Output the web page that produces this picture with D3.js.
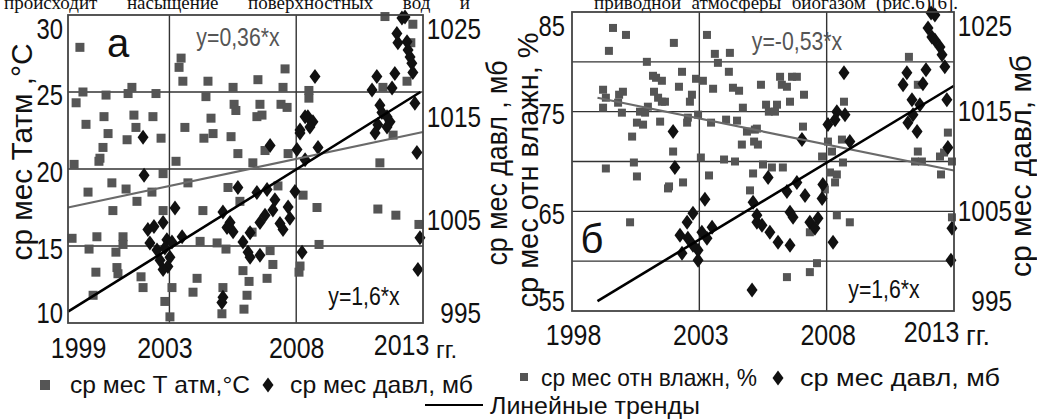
<!DOCTYPE html>
<html>
<head>
<meta charset="utf-8">
<style>
body { margin: 0; background: #fff; }
svg { display: block; }
text { font-family: "Liberation Sans", Arial, sans-serif; fill: #111; }
.serif { font-family: "Liberation Serif", "Times New Roman", serif; }
</style>
<title></title>
</head>
<body>
<script src="https://cdn.jsdelivr.net/npm/d3@7/dist/d3.min.js"></script>
<script>

// ---- data ----
// panel а: monthly air temperature (°C) and pressure (mb)
var tempA = [
  [1999.47,27.9],[1999.32,24.3],[1999.59,25.0],[1999.71,22.9],[2000.50,24.8],[2000.42,23.4],[2000.58,22.3],
  [2000.38,21.4],[2000.26,20.7],[2001.52,25.3],[2001.37,24.9],[2001.60,23.5],[2001.68,22.7],[2001.33,21.9],
  [2002.35,23.4],[2002.47,24.9],[2002.67,22.0],[1999.24,20.3],[2000.22,20.5],[2002.75,19.7],[1999.79,18.5],
  [2000.73,19.1],[2001.29,18.7],[2000.77,17.3],[2001.72,17.9],[2002.31,18.5],[1999.16,15.5],[1999.83,14.8],
  [2000.14,15.6],[2000.10,13.3],[2000.89,14.6],[2001.17,15.6],[2001.17,15.1],[2000.93,13.6],[2000.97,13.2],
  [1999.99,11.8],[2001.88,13.0],[2001.96,12.3],[2002.75,17.3],[2003.10,12.3],[2002.82,11.4],[2003.02,10.4],
  [2003.46,27.2],[2003.38,26.6],[2003.53,25.7],[2004.52,25.7],[2004.44,24.7],[2005.51,25.3],[2005.55,24.2],
  [2005.62,23.8],[2006.49,25.8],[2006.57,24.2],[2006.45,23.4],[2006.65,23.5],[2007.56,26.5],[2007.48,25.3],
  [2007.40,24.2],[2007.64,24.0],[2004.64,23.3],[2003.61,22.7],[2004.36,22.0],[2004.72,22.3],[2005.43,22.1],
  [2005.70,21.0],[2003.26,20.5],[2006.29,20.4],[2006.77,21.2],[2007.68,21.0],[2003.73,19.1],[2005.31,18.8],
  [2004.32,17.3],[2005.78,17.9],[2007.28,18.9],[2008.27,18.3],[2004.21,15.3],[2004.88,15.2],[2005.23,14.8],
  [2006.26,15.9],[2005.90,13.4],[2006.14,12.7],[2006.85,12.9],[2006.97,14.7],[2007.08,13.8],[2008.11,13.3],
  [2008.15,13.7],[2004.09,12.9],[2003.93,12.0],[2005.11,12.3],[2006.06,11.8],[2005.94,10.9],[2005.07,10.6],
  [2011.50,29.9],[2012.60,29.4],[2012.52,28.2],[2008.50,25.1],[2008.50,24.6],[2011.42,25.3],[2012.37,25.7],
  [2011.82,22.2],[2011.30,20.4],[2008.82,17.5],[2011.22,17.4],[2011.93,17.0],[2012.84,16.4],[2008.90,15.1]
];
var pressA = [
  [2001.96,1013.1],[2002.00,1009.4],[2002.15,1004.1],[2002.39,1004.4],[2002.75,1004.8],[2003.22,1006.2],
  [2002.23,1002.8],[2002.51,1002.1],[2002.90,1003.1],[2002.94,1000.5],[2002.63,1001.1],[2003.02,1001.4],
  [2002.75,1000.2],[2003.50,1003.4],[2003.10,1002.9],[2002.82,1002.3],[2005.70,1008.2],[2005.11,1005.8],
  [2005.39,1004.8],[2005.51,1003.9],[2005.27,1004.3],[2006.45,1007.7],[2006.85,1008.0],[2007.16,1007.0],
  [2007.08,1006.0],[2006.57,1004.8],[2006.77,1005.5],[2007.48,1004.1],[2007.36,1004.7],[2007.68,1006.3],
  [2007.75,1005.2],[2007.95,1007.8],[2005.90,1002.9],[2006.10,1001.9],[2006.18,1001.4],[2006.57,1001.6],
  [2006.18,1003.8],[2008.23,1001.9],[2005.07,997.0],[2005.11,997.5],[2006.97,1012.3],[2008.35,1015.1],
  [2008.15,1013.8],[2008.03,1011.9],[2012.17,1024.7],[2012.29,1024.8],[2011.97,1023.2],[2012.01,1022.3],
  [2012.37,1022.4],[2012.41,1021.6],[2012.49,1020.9],[2012.56,1020.3],[2012.60,1019.4],[2008.74,1019.0],
  [2011.18,1019.0],[2011.89,1019.3],[2010.99,1017.7],[2011.78,1017.9],[2011.30,1016.2],[2011.38,1015.5],
  [2011.58,1015.1],[2011.70,1014.6],[2011.22,1014.3],[2011.11,1013.5],[2011.58,1014.1],[2012.68,1016.4],
  [2012.76,1011.6],[2008.46,1015.1],[2008.66,1014.6],[2008.54,1014.1],[2008.15,1013.5],[2008.86,1012.1],
  [2008.35,1010.9],[2012.88,1003.3],[2012.80,1000.2]
];
// panel б: monthly relative humidity (%) and pressure (mb)
var humB = [
  [1999.61,83.4],[2000.12,82.7],[1999.45,81.1],[2002.00,81.9],[2003.30,82.7],[2000.94,80.0],[2002.32,79.0],
  [2001.18,78.6],[2001.30,78.4],[2001.53,78.1],[1999.22,77.2],[2000.00,77.0],[2002.20,77.5],[2002.87,78.3],
  [2003.14,78.1],[2003.54,77.3],[2002.71,76.7],[2002.63,76.0],[2001.22,77.0],[2001.38,76.4],[2001.53,76.0],
  [2001.65,76.0],[1999.33,76.4],[1999.22,75.4],[1999.85,76.7],[1999.81,75.9],[1999.96,74.9],[2000.67,75.0],
  [2000.87,74.9],[2000.98,75.5],[2000.55,73.9],[2000.79,73.7],[2001.46,74.0],[2002.52,73.9],[2002.55,74.4],
  [2002.95,74.7],[2003.46,73.9],[2003.61,80.8],[2003.73,79.9],[2004.20,80.9],[2004.16,79.0],[2004.32,77.4],
  [2004.56,77.1],[2004.71,75.4],[2004.48,74.1],[2004.05,74.2],[2004.87,73.0],[2005.18,73.2],[2005.15,72.0],
  [2004.67,71.7],[2000.36,72.5],[2001.97,71.0],[2003.06,70.4],[2003.97,70.2],[2004.40,70.0],[1999.33,69.3],
  [2000.43,69.9],[2000.55,68.5],[2003.38,68.6],[2001.81,67.5],[2001.77,67.3],[2002.36,67.9],[2005.11,68.8],
  [2004.99,67.1],[2000.28,63.9],[2011.23,80.5],[2005.42,77.7],[2006.17,78.5],[2006.24,77.7],[2006.44,77.5],
  [2006.64,78.5],[2006.83,78.5],[2007.11,76.7],[2005.62,75.7],[2005.73,75.0],[2006.05,75.7],[2005.97,75.0],
  [2006.56,76.0],[2005.26,73.3],[2005.30,71.7],[2007.07,73.5],[2008.68,76.0],[2008.60,72.2],[2008.05,72.0],
  [2008.21,71.0],[2007.82,70.5],[2008.64,69.9],[2005.85,69.4],[2005.50,69.7],[2006.28,69.4],[2008.13,68.9],
  [2008.40,68.7],[2007.93,67.2],[2008.33,67.9],[2011.58,71.0],[2011.47,70.0],[2011.74,70.0],[2012.45,70.5],
  [2012.76,72.9],[2012.61,70.9],[2012.92,70.0],[2012.49,68.7],[2011.58,77.7],[2008.40,64.6],[2008.91,63.9],
  [2012.92,64.4],[2007.62,59.8],[2007.34,58.9],[2006.44,58.4],[2007.34,62.9]
];
var pressB = [
  [2001.97,1013.0],[2002.04,1009.4],[2003.22,1006.2],[2002.52,1003.9],[2002.75,1004.8],[2002.24,1002.6],
  [2002.55,1002.3],[2002.32,1000.8],[2002.95,1000.1],[2003.10,1002.9],[2003.50,1003.4],[2003.30,1002.3],
  [2002.95,1001.1],[2002.75,1001.6],[2005.11,1005.9],[2005.26,1003.9],[2005.07,997.1],[2012.25,1024.7],
  [2012.10,1024.9],[2011.98,1023.4],[2012.13,1022.5],[2012.25,1022.2],[2012.45,1021.5],[2012.53,1020.7],
  [2012.64,1019.5],[2008.68,1018.9],[2011.15,1018.9],[2011.90,1019.2],[2011.78,1017.8],[2011.00,1017.7],
  [2011.35,1016.2],[2011.66,1015.7],[2011.39,1014.7],[2011.19,1013.9],[2011.55,1013.0],[2012.72,1016.2],
  [2012.76,1011.4],[2008.40,1015.0],[2008.72,1014.7],[2008.33,1014.2],[2008.05,1013.7],[2008.91,1012.0],
  [2007.03,1012.2],[2005.70,1008.4],[2006.83,1007.9],[2006.44,1007.0],[2007.15,1006.6],[2007.82,1006.3],
  [2007.85,1007.7],[2006.56,1004.9],[2006.68,1004.4],[2007.34,1003.9],[2007.54,1003.3],[2007.66,1004.3],
  [2005.26,1004.6],[2005.46,1003.6],[2005.77,1002.9],[2006.09,1001.9],[2006.56,1001.6],[2008.25,1001.9],
  [2012.92,1003.3],[2012.88,1000.1]
];
// linear trends (end points)
var trendTempA = [[1999, 17.5], [2013, 22.4]];
var trendPressA = [[1999, 996.1], [2012.9, 1017.5]];
var trendHumB = [[1999, 76.4], [2013, 69.1]];
var trendPressB = [[1999, 996.0], [2013, 1017.6]];

var yearTicksA = [1999, 2003, 2008, 2013];
var yearTicksB = [1998, 2003, 2008, 2013];
var tempTicks = [10, 15, 20, 25, 30];
var humTicks = [55, 65, 75, 85];
var pressTicks = [995, 1005, 1015, 1025];

var titlesA = ["ср мес Татм ,°С", "ср мес давл , мб"];
var titlesB = ["ср мес отн влажн, %", "ср мес давл, мб"];
var eqA = ["y=0,36*x", "y=1,6*x"];
var eqB = ["y=-0,53*x", "y=1,6*x"];
var legendA = ["ср мес Т атм,°С", "ср мес давл, мб"];
var legendB = ["ср мес отн влажн, %", "ср мес давл, мб"];
var topText = ["происходит насыщение поверхностных вод и", "приводной атмосферы биогазом (рис.6)[6]."];

var width = 1037, height = 419;
var svg = d3.select("body").append("svg")
    .attr("width", width)
    .attr("height", height);
svg.append("rect").attr("width", width).attr("height", height).attr("fill", "#fff");

// squeeze a text horizontally (narrow face is not installed)
function squeeze(sel, k) {
  sel.each(function() {
    var len = this.getComputedTextLength();
    d3.select(this).attr("textLength", len * k).attr("lengthAdjust", "spacingAndGlyphs");
  });
}
function fitTo(sel, len) {
  sel.attr("textLength", len).attr("lengthAdjust", "spacingAndGlyphs");
}

// cut off text line at the top (justified)
function justified(str, x0, x1, y) {
  var t = svg.append("text").attr("class", "serif")
      .attr("x", x0).attr("y", y)
      .style("font-size", "19px")
      .text(str);
  var natural = t.node().getComputedTextLength();
  var gaps = str.split(" ").length - 1;
  t.style("word-spacing", Math.max(0, (x1 - x0 - natural) / gaps) + "px");
}
justified(topText[0], 4, 470, 9);
justified(topText[1], 594, 958, 9);

var diamond = "M0,-7.5L5.5,0L0,7.5L-5.5,0Z";

function drawPanel(p) {
  var x = d3.scaleLinear().domain(p.xDomain).range([p.left, p.right]);
  var yL = d3.scaleLinear().domain(p.leftDomain).range([p.bottom, p.top]);
  var yR = d3.scaleLinear().domain([995, 1025]).range([p.bottom, p.top]);
  var g = svg.append("g");

  // grid
  g.selectAll(".hg").data(p.hGrid).enter().append("line")
      .attr("x1", p.left).attr("x2", p.right)
      .attr("y1", d => yL(d)).attr("y2", d => yL(d))
      .attr("stroke", "#333").attr("stroke-width", 1.4);
  g.selectAll(".vg").data([2003, 2008]).enter().append("line")
      .attr("x1", d => x(d)).attr("x2", d => x(d))
      .attr("y1", p.top).attr("y2", p.bottom)
      .attr("stroke", "#333").attr("stroke-width", 1.4);

  // squares (left axis)
  g.selectAll(".sq").data(p.squares).enter().append("rect")
      .attr("x", d => x(d[0]) - p.sq / 2)
      .attr("y", d => yL(d[1]) - p.sq / 2)
      .attr("width", p.sq).attr("height", p.sq)
      .attr("fill", "#555");

  // diamonds (right axis)
  g.selectAll(".dm").data(p.diamonds).enter().append("path")
      .attr("d", diamond)
      .attr("transform", d => "translate(" + x(d[0]) + "," + yR(d[1]) + ")")
      .attr("fill", "#111");

  // trends
  var lineL = d3.line().x(d => x(d[0])).y(d => yL(d[1]));
  var lineR = d3.line().x(d => x(d[0])).y(d => yR(d[1]));
  g.append("path").attr("d", lineL(p.trendL))
      .attr("fill", "none").attr("stroke", "#6a6a6a").attr("stroke-width", 2.2);
  g.append("path").attr("d", lineR(p.trendR))
      .attr("fill", "none").attr("stroke", "#000").attr("stroke-width", 2.6);

  // frame
  g.append("rect")
      .attr("x", p.left).attr("y", p.top)
      .attr("width", p.right - p.left).attr("height", p.bottom - p.top)
      .attr("fill", "none").attr("stroke", "#444").attr("stroke-width", 1.8);

  function clampShift(scale, lo, hi, base) {
    return function(d) {
      var pos = scale(d);
      return Math.min(Math.max(pos + base, p.top + lo), p.bottom - hi) - pos;
    };
  }

  // x axis labels
  var ax = g.append("g")
      .attr("transform", "translate(0," + p.bottom + ")")
      .call(d3.axisBottom(x).tickValues(p.xTicks).tickSize(0).tickPadding(p.xPad).tickFormat(d3.format("d")));
  ax.select(".domain").remove();
  ax.attr("font-family", null).attr("font-size", null);
  ax.selectAll("text")
      .style("font-size", "29px").attr("fill", "#111")
      .attr("dx", (d, i) => p.xShift[i])
      .attr("y", (d, i) => p.xPad + (i === 3 ? -3 : 0))
      .call(squeeze, 0.86);
  g.append("text")
      .attr("x", p.ggX).attr("y", p.bottom + p.xPad + 21)
      .style("font-size", p.ggSize + "px")
      .text("гг.");

  // left axis labels
  var ay = g.append("g")
      .attr("transform", "translate(" + p.left + ",0)")
      .call(d3.axisLeft(yL).tickValues(p.leftTicks).tickSize(0).tickPadding(p.lPad));
  ay.select(".domain").remove();
  ay.attr("font-family", null).attr("font-size", null);
  ay.selectAll("text").style("font-size", "29px").attr("fill", "#111")
      .attr("y", clampShift(yL, 14, 10, 3))
      .call(squeeze, 0.82);

  // right axis labels
  var ar = g.append("g")
      .attr("transform", "translate(" + p.right + ",0)")
      .call(d3.axisRight(yR).tickValues(pressTicks).tickSize(0).tickPadding(58).tickFormat(d3.format("d")));
  ar.select(".domain").remove();
  ar.attr("font-family", null).attr("font-size", null);
  ar.selectAll("text").style("font-size", "29px").attr("fill", "#111")
      .attr("text-anchor", "end")
      .attr("y", clampShift(yR, 14, 10, 0))
      .call(squeeze, 0.84);

  // axis titles
  g.append("text")
      .attr("transform", "translate(" + p.titleLX + "," + p.titleLY + ") rotate(-90)")
      .attr("text-anchor", "middle").style("font-size", "30px")
      .text(p.titles[0])
      .call(fitTo, p.titleLLen);
  g.append("text")
      .attr("transform", "translate(" + p.titleRX + "," + p.titleRY + ") rotate(-90)")
      .attr("text-anchor", "middle").style("font-size", "30px")
      .text(p.titles[1])
      .call(fitTo, p.titleRLen);

  // equations
  g.append("text").attr("x", p.eqL[0]).attr("y", p.eqL[1])
      .attr("text-anchor", "middle").style("font-size", "25px").style("fill", "#555")
      .text(p.eq[0]).call(squeeze, 0.85);
  g.append("text").attr("x", p.eqR[0]).attr("y", p.eqR[1])
      .attr("text-anchor", "middle").style("font-size", "25px")
      .text(p.eq[1]).call(squeeze, 0.85);

  // panel letter
  g.append("text").attr("x", p.letterPos[0]).attr("y", p.letterPos[1])
      .attr("text-anchor", "middle").style("font-size", "40px")
      .text(p.letter);

  // legend
  var lg = g.append("g").attr("transform", "translate(0," + p.legY + ")");
  lg.append("rect").attr("x", p.legX[0]).attr("y", -13).attr("width", p.legSq).attr("height", p.legSq).attr("fill", "#555");
  lg.append("text").attr("x", p.legX[1]).attr("y", 0).style("font-size", "24px")
      .text(p.legend[0]).call(fitTo, p.legLen[0]);
  lg.append("path").attr("d", diamond).attr("transform", "translate(" + p.legX[2] + ",-8)").attr("fill", "#111");
  lg.append("text").attr("x", p.legX[3]).attr("y", 0).style("font-size", "24px")
      .text(p.legend[1]).call(fitTo, p.legLen[1]);
}

drawPanel({
  left: 68, right: 423, top: 15, bottom: 323,
  xDomain: [1999, 2013], leftDomain: [10, 30],
  xTicks: yearTicksA, xShift: [10, -5, 0, -22], xPad: 14,
  leftTicks: tempTicks, hGrid: [15, 20, 25], lPad: 5,
  squares: tempA, diamonds: pressA, sq: 9,
  trendL: trendTempA, trendR: trendPressA,
  ggX: 436, ggSize: 24,
  titles: titlesA, titleLX: 32, titleLY: 152, titleLLen: 217,
  titleRX: 507, titleRY: 163, titleRLen: 205,
  eq: eqA, eqL: [238, 46], eqR: [364, 305],
  letter: "а", letterPos: [118, 57],
  legend: legendA, legY: 393, legX: [40, 70, 268, 290], legSq: 10, legLen: [180, 183]
});

drawPanel({
  left: 572, right: 954, top: 12, bottom: 311,
  xDomain: [1998, 2013], leftDomain: [55, 85],
  xTicks: yearTicksB, xShift: [1, 1, 1, -23], xPad: 13,
  leftTicks: humTicks, hGrid: [60, 65, 70, 75, 80], lPad: 7,
  squares: humB, diamonds: pressB, sq: 8,
  trendL: trendHumB, trendR: trendPressB,
  ggX: 966, ggSize: 27,
  titles: titlesB, titleLX: 538, titleLY: 170, titleLLen: 275,
  titleRX: 1031, titleRY: 166, titleRLen: 222,
  eq: eqB, eqL: [797, 50], eqR: [884, 298],
  letter: "б", letterPos: [592, 253],
  legend: legendB, legY: 386, legX: [520, 541, 778, 800], legSq: 8, legLen: [216, 200]
});

// common legend for the trend lines
svg.append("line")
    .attr("x1", 425).attr("x2", 483).attr("y1", 405).attr("y2", 405)
    .attr("stroke", "#000").attr("stroke-width", 2);
svg.append("text")
    .attr("x", 490).attr("y", 414)
    .style("font-size", "24px")
    .text("Линейные тренды")
    .call(fitTo, 210);

</script>
</body>
</html>
